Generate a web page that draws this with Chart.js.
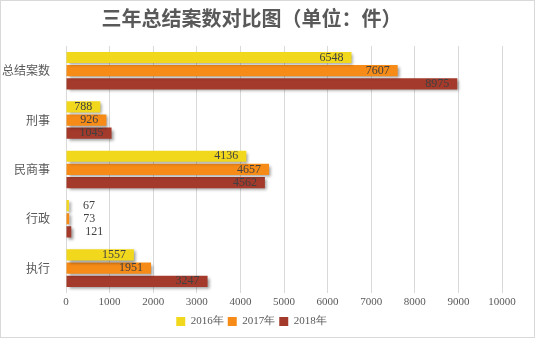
<!DOCTYPE html>
<html>
<head>
<meta charset="utf-8">
<script src="https://cdn.jsdelivr.net/npm/chart.js@4.4.1/dist/chart.umd.min.js"></script>
<style>
  html, body { margin: 0; padding: 0; background: #fff; }
  #wrap { width: 535px; height: 338px; box-sizing: border-box; border: 1px solid #d9d9d9; }
</style>
</head>
<body>
<div id="wrap"><canvas id="chart" width="533" height="336"></canvas></div>
<script>
const categories = ["总结案数", "刑事", "民商事", "行政", "执行"];
const years = ["2016年", "2017年", "2018年"];
const cases2016 = [6548, 788, 4136, 67, 1557];
const cases2017 = [7607, 926, 4657, 73, 1951];
const cases2018 = [8975, 1045, 4562, 121, 3247];
const xTicks = [0, 1000, 2000, 3000, 4000, 5000, 6000, 7000, 8000, 9000, 10000];

const colors = ["#f2d81d", "#f68b17", "#a33a2b"];
const serif = "'Liberation Serif', 'DejaVu Serif', serif";
const cjk = "'Noto Sans CJK SC', sans-serif";

// soft drop shadow under every bar
const barShadow = {
  id: "barShadow",
  beforeDatasetsDraw(chart) {
    const ctx = chart.ctx;
    ctx.save();
    ctx.shadowColor = "rgba(0,0,0,0.4)";
    ctx.shadowOffsetX = 2;
    ctx.shadowOffsetY = 2;
    ctx.shadowBlur = 3;
  },
  afterDatasetsDraw(chart) {
    chart.ctx.restore();
  },
};

// value labels at the end of each bar, outside when the bar is too short
const valueLabels = {
  id: "valueLabels",
  afterDatasetsDraw(chart) {
    const ctx = chart.ctx;
    ctx.save();
    ctx.font = "12px " + serif;
    ctx.fillStyle = "#404040";
    ctx.textBaseline = "middle";
    chart.data.datasets.forEach((ds, i) => {
      const meta = chart.getDatasetMeta(i);
      meta.data.forEach((bar, j) => {
        const text = String(ds.data[j]);
        const len = bar.x - bar.base;
        if (len < 20) {
          ctx.textAlign = "left";
          ctx.fillText(text, bar.x + 14, bar.y);
        } else {
          ctx.textAlign = "right";
          ctx.fillText(text, bar.x - 8, bar.y);
        }
      });
    });
    ctx.restore();
  },
};

new Chart(document.getElementById("chart"), {
  type: "bar",
  data: {
    labels: categories,
    datasets: [cases2016, cases2017, cases2018].map((values, i) => ({
      label: years[i],
      data: values,
      backgroundColor: colors[i],
      borderWidth: 0,
      categoryPercentage: 0.8,
      barPercentage: 0.85,
    })),
  },
  options: {
    indexAxis: "y",
    responsive: false,
    animation: false,
    layout: { padding: { left: 0, right: 32, top: 0, bottom: 0 } },
    plugins: {
      title: {
        display: true,
        text: "三年总结案数对比图（单位：件）",
        color: "#595959",
        font: { family: cjk, size: 20, weight: "bold" },
        padding: { top: 5, bottom: 16 },
      },
      legend: {
        position: "bottom",
        labels: {
          boxWidth: 9,
          boxHeight: 9,
          padding: 4,
          color: "#595959",
          font: { family: serif, size: 11 },
        },
      },
      tooltip: { enabled: false },
    },
    scales: {
      x: {
        min: 0,
        max: 10000,
        afterBuildTicks: (scale) => {
          scale.ticks = xTicks.map((v) => ({ value: v }));
        },
        grid: { color: "#d9d9d9", drawTicks: false },
        border: { display: false },
        ticks: {
          padding: 3,
          color: "#595959",
          font: { family: serif, size: 11 },
          callback: (value) => String(value),
        },
      },
      y: {
        afterFit: (scale) => { scale.width = 65; },
        grid: { display: false },
        border: { display: false },
        ticks: {
          padding: 8,
          color: "#595959",
          font: { family: cjk, size: 12 },
        },
      },
    },
  },
  plugins: [barShadow, valueLabels],
});
</script>
</body>
</html>
